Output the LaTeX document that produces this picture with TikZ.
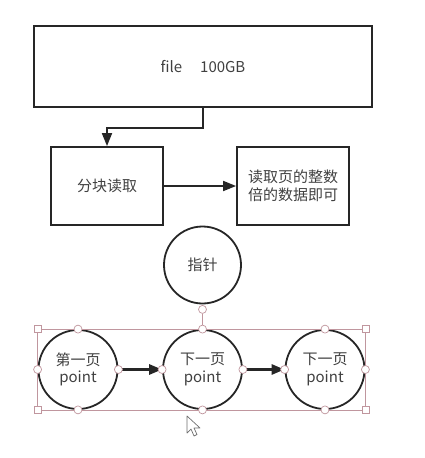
\documentclass[tikz,border=0pt]{standalone}
\usepackage{fontspec}
\setmainfont{Noto Sans CJK SC}
\usetikzlibrary{arrows.meta,fit}
\definecolor{linegray}{RGB}{38,38,38}
\definecolor{txtgray}{RGB}{64,64,64}
\definecolor{selpink}{RGB}{192,150,158}
\definecolor{cursorgray}{RGB}{110,110,110}

\begin{document}
\begin{tikzpicture}[
  x=1pt, y=-1pt,
  every node/.style={text=txtgray, font=\fontsize{15}{17.5}\selectfont},
  block/.style={draw=linegray, line width=1.8pt, inner sep=0pt, align=center},
  page/.style={block, circle, minimum size=79pt},
  arrow/.style={-{Triangle[length=13pt,width=10pt]}, line width=1.8pt, draw=linegray},
  nextarrow/.style={arrow, line width=2.8pt},
  selline/.style={draw=selpink, line width=0.9pt},
  handle/.style={circle, draw=selpink, fill=white, line width=0.7pt,
                 minimum size=8pt, inner sep=0pt},
  corner/.style={rectangle, draw=selpink, fill=white, line width=0.7pt,
                 minimum size=7pt, inner sep=0pt}
]
\useasboundingbox (0,0) rectangle (424,458);

\node[block, minimum width=338pt, minimum height=81pt] (file) at (203,66.5)
  {file\hspace{1.2em}100GB};
\node[block, minimum width=112pt, minimum height=78pt] (chunk) at (107,186)
  {分块读取};
\node[block, minimum width=112pt, minimum height=78pt] (whole) at (293,186)
  {读取页的整数\\倍的数据即可};

\node[page, minimum size=77pt] (ptr) at (202.5,265) {指针};
\node[page] (pgA) at (78,369.5) {第一页\\point};
\node[page] (pgB) at (202.5,369.5) {下一页\\point};
\node[page] (pgC) at (325,369.5) {下一页\\point};

\draw[arrow] (file.south) -- ++(0,20) -| (chunk.north);
\draw[arrow] (chunk) -- (whole);
\draw[nextarrow] (pgA) -- (pgB);
\draw[nextarrow] (pgB) -- (pgC);

% selection frame
\node[fit=(pgA)(pgC), draw=selpink, line width=0.5pt, inner sep=0pt] (sel) {};
\node[handle] (ptrhandle) at ([yshift=-5pt]ptr.south) {};
\draw[selline] (pgB.north) -- (ptrhandle);
\foreach \n in {pgA,pgB,pgC}
  \foreach \a in {north,south,east,west}
    \node[handle] at (\n.\a) {};
\foreach \a in {north west,north east,south west,south east}
  \node[corner] at (sel.\a) {};

% mouse cursor
\draw[cursorgray, fill=white, line width=0.7pt, line join=round]
  (187,416) -- ++(0,17) -- ++(4,-4) -- ++(3,7) -- ++(3,-1.5)
  -- ++(-3,-6.5) -- ++(6,0) -- cycle;
\end{tikzpicture}
\end{document}
